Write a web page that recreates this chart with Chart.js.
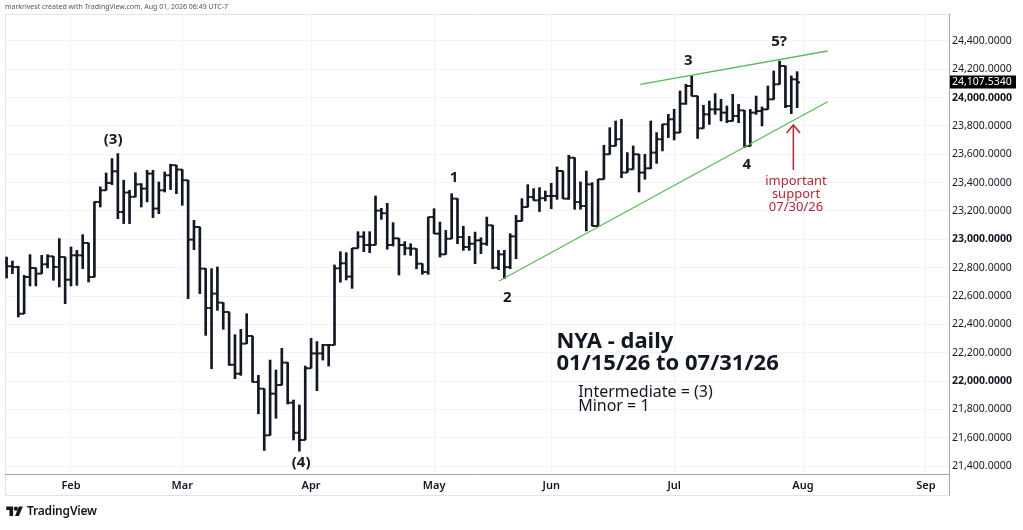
<!DOCTYPE html>
<html>
<head>
<meta charset="utf-8">
<title>NYA - daily</title>
<script src="https://cdn.jsdelivr.net/npm/chart.js@4.4.1/dist/chart.umd.min.js"></script>
<style>
  html, body { margin: 0; padding: 0; background: #fff; }
  #wrap { position: relative; width: 1023px; height: 530px; overflow: hidden; }
  #chart { position: absolute; left: 0; top: 0; }
  .hdr { position: absolute; left: 5px; top: 3px; font: 7px/1 'Noto Sans', sans-serif; color: #555; white-space: nowrap; }
  .brand { position: absolute; left: 6px; top: 505px; display: flex; align-items: center; gap: 4px;
           font: 600 12px/1 'Noto Sans', sans-serif; color: #131722; letter-spacing: -0.2px; }
</style>
</head>
<body>
<div id="wrap">
  <canvas id="chart" width="1023" height="530"></canvas>
  <div class="hdr">markrivest created with TradingView.com, Aug 01, 2026 06:49 UTC-7</div>
  <div class="brand">
    <svg width="17" height="12" viewBox="0 0 36 26"><path d="M15 24H7V11H0V3h15z" fill="#131722"/><circle cx="21" cy="8" r="4.5" fill="#131722"/><path d="M27.5 3H36l-8.5 21H19z" fill="#131722"/></svg>
    <span>TradingView</span>
  </div>
</div>
<script>
// NYA daily OHLC, 01/15/26 .. 07/31/26, one entry per trading day (index 0 = Jan 15)
const opens = [
  22840, 22810, 22805, 22475, 22734, 22798, 22758, 22824, 22880, 22805,
  22875, 22715, 22887, 22887, 22974, 22734, 23264, 23346, 23398, 23480,
  23193, 23330, 23300, 23388, 23358, 23464, 23217, 23346, 23452, 23523,
  23492, 23417, 22998, 23087, 22793, 22515, 22617, 22553, 22487, 22115,
  22052, 22264, 22318, 21993, 21946, 21617, 21911, 21972, 22130, 21847,
  21635, 21584, 22090, 22195, 22195, 22254, 22254, 22795, 22831, 22737,
  22937, 23019, 22960, 22960, 23203, 23184, 22960, 23007, 22960, 22937,
  22934, 22828, 22769, 23157, 23040, 22894, 23004, 23287, 23016, 22946,
  22969, 22993, 22969, 23099, 22800, 22894, 22804, 23021, 23129, 23228,
  23299, 23275, 23290, 23306, 23306, 23482, 23287, 23576, 23263, 23235,
  23388, 23094, 23424, 23600, 23659, 23706, 23471, 23494, 23600, 23471,
  23501, 23612, 23706, 23812, 23847, 23753, 23957, 24082, 24011, 23783,
  23882, 23917, 23917, 23894, 23835, 23870, 23910, 23658, 23894, 23905,
  23917, 23988, 24094, 24223, 23941, 24129,
];
const highs = [
  22875, 22847, 22810, 22746, 22892, 22798, 22887, 22892, 22880, 23005,
  22875, 22946, 22922, 23033, 22974, 23264, 23370, 23468, 23570, 23605,
  23417, 23346, 23470, 23393, 23487, 23487, 23405, 23475, 23530, 23523,
  23492, 23417, 23134, 23087, 22793, 22793, 22805, 22553, 22487, 22327,
  22365, 22475, 22318, 22040, 21946, 22148, 22078, 22231, 22130, 21866,
  21831, 22106, 22301, 22278, 22259, 22259, 22819, 22913, 22906, 22937,
  23054, 23054, 23054, 23306, 23219, 23254, 23118, 23007, 22984, 22969,
  22934, 22828, 23157, 23216, 23122, 23063, 23322, 23287, 23092, 23021,
  23051, 23011, 23157, 23099, 22922, 22922, 23040, 23169, 23287, 23386,
  23358, 23365, 23341, 23395, 23511, 23482, 23593, 23576, 23405, 23482,
  23400, 23424, 23664, 23788, 23835, 23847, 23612, 23659, 23600, 23600,
  23835, 23753, 23812, 23882, 23918, 24047, 24094, 24153, 24011, 23946,
  23976, 24028, 23988, 23941, 24023, 23953, 23910, 23917, 24011, 23934,
  24082, 24188, 24258, 24223, 24153, 24183,
];
const lows = [
  22727, 22758, 22452, 22475, 22671, 22671, 22758, 22798, 22711, 22664,
  22546, 22671, 22675, 22793, 22699, 22734, 23228, 23346, 23386, 23146,
  23111, 23111, 23299, 23228, 23264, 23153, 23181, 23334, 23351, 23322,
  23240, 22581, 22927, 22617, 22322, 22087, 22499, 22365, 22111, 22017,
  22040, 22264, 21993, 21769, 21510, 21617, 21737, 21972, 21838, 21584,
  21505, 21584, 22090, 21932, 22148, 22106, 22254, 22697, 22713, 22654,
  22937, 22913, 22906, 22960, 23141, 22930, 22953, 22748, 22890, 22887,
  22792, 22753, 22753, 23040, 22875, 22894, 23004, 22969, 22922, 22922,
  22828, 22899, 22957, 22793, 22786, 22722, 22793, 22863, 23129, 23228,
  23275, 23196, 23271, 23216, 23282, 23287, 23282, 23212, 23212, 23059,
  23094, 23094, 23424, 23600, 23659, 23435, 23471, 23494, 23334, 23424,
  23499, 23536, 23624, 23718, 23701, 23753, 23953, 24011, 23712, 23783,
  23811, 23882, 23835, 23823, 23835, 23823, 23647, 23658, 23882, 23800,
  23917, 23988, 24094, 23929, 23887, 23929,
];
const closes = [
  22810, 22805, 22475, 22734, 22798, 22758, 22824, 22880, 22805, 22875,
  22715, 22887, 22887, 22974, 22734, 23264, 23346, 23398, 23480, 23193,
  23330, 23300, 23388, 23358, 23464, 23217, 23346, 23452, 23523, 23492,
  23417, 22998, 23087, 22793, 22515, 22617, 22553, 22487, 22115, 22052,
  22264, 22318, 21993, 21946, 21617, 21911, 21972, 22130, 21847, 21635,
  21584, 22090, 22195, 22195, 22254, 22254, 22795, 22831, 22737, 22937,
  23019, 22960, 22960, 23203, 23184, 22960, 23007, 22960, 22937, 22934,
  22828, 22769, 23157, 23040, 22894, 23004, 23287, 23016, 22946, 22969,
  22993, 22969, 23099, 22800, 22894, 22804, 23021, 23129, 23228, 23299,
  23275, 23290, 23306, 23306, 23482, 23287, 23576, 23263, 23235, 23388,
  23094, 23424, 23600, 23659, 23706, 23471, 23494, 23600, 23471, 23501,
  23612, 23706, 23812, 23847, 23753, 23957, 24082, 24011, 23783, 23882,
  23917, 23917, 23894, 23835, 23870, 23910, 23658, 23894, 23905, 23917,
  23988, 24094, 24223, 23941, 24129, 24107.534,
];

// month starts as trading-day index (Feb 2, Mar 2, Apr 1, May 1, Jun 1, Jul 1, Aug 3, Sep 1)
const monthIdx   = [11, 30, 52, 73, 93, 114, 136, 157];
const monthNames = ['Feb', 'Mar', 'Apr', 'May', 'Jun', 'Jul', 'Aug', 'Sep'];
const yTicks = [21400, 21600, 21800, 22000, 22200, 22400, 22600, 22800, 23000,
                23200, 23400, 23600, 23800, 24000, 24200, 24400];

// drawn trend lines: [index, value] endpoints
const upperLine = [[108.2, 24094], [140.2, 24329]];
const lowerLine = [[84.1, 22706], [140.2, 23971]];
const arrowShaft = [[134.35, 23489], [134.35, 23800]];
const arrowHead  = [[133.2, 23750], [134.35, 23807], [135.5, 23750]];

// text on the chart: [text, index, value, style]
const notes = [
  ['(3)', 18.2, 23701, 'wave'],
  ['(4)', 50.3, 21422, 'wave'],
  ['1', 76.4, 23433, 'wave'],
  ['2', 85.5, 22586, 'wave'],
  ['3', 116.4, 24258, 'wave'],
  ['4', 126.4, 23524, 'wave'],
  ['5?', 131.9, 24392, 'wave'],
  ['important', 134.8, 23408, 'red'],
  ['support', 134.8, 23316, 'red'],
  ['07/30/26', 134.8, 23225, 'red'],
  ['NYA - daily', 93.9, 22231, 'title'],
  ['01/15/26 to 07/31/26', 93.9, 22078, 'title'],
  ['Intermediate = (3)', 97.6, 21889, 'legend'],
  ['Minor = 1', 97.6, 21788, 'legend'],
];

const FONT = "'Noto Sans', sans-serif";
const K = {
  ink: '#131722', grid: '#f0f3fa', axis: '#a3a6af', frame: '#e0e3eb',
  green: '#5cb85c', red: '#b22833',
};
const noteStyles = {
  wave:   { font: `bold 15px ${FONT}`, color: K.ink, align: 'center', base: 'middle' },
  red:    { font: `13px ${FONT}`, color: K.red, align: 'center', base: 'middle' },
  title:  { font: `bold 22px ${FONT}`, color: K.ink, align: 'left', base: 'alphabetic' },
  legend: { font: `16px ${FONT}`, color: K.ink, align: 'left', base: 'alphabetic' },
};

const TICK = 0.25;   // open/close tick offset, in bar units
const pts = arr => arr.map(([x, y]) => ({ x, y }));

// ─── frame, notes and last-price tag ─────────────────────────────────────────
const decor = {
  id: 'decor',
  beforeDraw(chart) {
    const { ctx, chartArea: a } = chart;
    ctx.save();
    ctx.strokeStyle = K.frame;
    ctx.lineWidth = 1;
    ctx.beginPath();
    ctx.moveTo(a.left + 0.5, 495.5); ctx.lineTo(a.left + 0.5, a.top + 0.5); ctx.lineTo(a.right, a.top + 0.5);
    ctx.moveTo(a.left, 495.5); ctx.lineTo(a.right, 495.5);
    ctx.stroke();
    ctx.strokeStyle = K.axis;
    ctx.beginPath();
    ctx.moveTo(a.right + 0.5, a.bottom); ctx.lineTo(a.right + 0.5, 496);
    ctx.stroke();
    ctx.restore();
  },
  afterDatasetsDraw(chart) {
    const { ctx, scales: { x, y } } = chart;
    ctx.save();
    notes.forEach(([text, i, v, s]) => {
      const st = noteStyles[s];
      ctx.font = st.font;
      ctx.fillStyle = st.color;
      ctx.textAlign = st.align;
      ctx.textBaseline = st.base;
      ctx.fillText(text, x.getPixelForValue(i), y.getPixelForValue(v));
    });
    ctx.restore();
  },
  afterDraw(chart) {
    const { ctx, chartArea: a, scales: { y } } = chart;
    const last = closes[closes.length - 1];
    const py = y.getPixelForValue(last);
    ctx.save();
    ctx.fillStyle = '#000';
    ctx.fillRect(a.right + 1, Math.round(py) - 6.5, 66, 13);
    ctx.fillStyle = '#fff';
    ctx.font = `10.5px ${FONT}`;
    ctx.textAlign = 'left';
    ctx.textBaseline = 'middle';
    ctx.fillText(last.toLocaleString('en-US', { minimumFractionDigits: 4 }), a.right + 3, Math.round(py));
    ctx.restore();
  },
};

const tickSet = (vals, dx) => ({
  type: 'scatter',
  data: vals.map((v, i) => ({ x: i + dx, y: v })),
  pointStyle: 'line',
  pointRadius: 1.46, pointHoverRadius: 1.46,
  pointBorderWidth: 2, pointBorderColor: K.ink, pointBackgroundColor: K.ink,
});

const trend = (data, color, width) => ({
  type: 'line', data: pts(data), borderColor: color, borderWidth: width,
  pointRadius: 0, fill: false, tension: 0,
});

new Chart(document.getElementById('chart'), {
  type: 'bar',
  data: {
    datasets: [
      trend(upperLine, K.green, 1.3),
      trend(lowerLine, K.green, 1.3),
      trend(arrowShaft, K.red, 1.5),
      trend(arrowHead, K.red, 1.5),
      { type: 'bar', data: highs.map((h, i) => ({ x: i, y: [lows[i], h] })),
        backgroundColor: K.ink, barThickness: 2, borderWidth: 0 },
      tickSet(opens, -TICK),
      tickSet(closes, TICK),
    ],
  },
  options: {
    responsive: false, animation: false, events: [],
    layout: { padding: { left: 5, top: 14, right: 0, bottom: 0 } },
    plugins: { legend: { display: false }, tooltip: { enabled: false } },
    scales: {
      x: {
        type: 'linear', min: -0.27, max: 160.93, offset: false,
        afterBuildTicks: s => { s.ticks = monthIdx.map(v => ({ value: v })); },
        afterFit: s => { s.height = 56; },
        grid: { color: K.grid, drawTicks: false, offset: false },
        border: { color: K.axis },
        ticks: {
          autoSkip: false, maxRotation: 0, padding: 5, color: K.ink,
          font: { family: FONT, size: 11, weight: '600' },
          callback: v => monthNames[monthIdx.indexOf(v)],
        },
      },
      y: {
        type: 'linear', position: 'right', min: 21344, max: 24590,
        afterBuildTicks: s => { s.ticks = yTicks.map(v => ({ value: v })); },
        afterFit: s => { s.width = 74; },
        grid: { color: K.grid, drawTicks: false },
        border: { color: K.axis },
        ticks: {
          padding: 3, color: K.ink,
          font: c => ({ family: FONT, size: 10.5, weight: c.tick && c.tick.value % 1000 === 0 ? 'bold' : 'normal' }),
          callback: v => v.toLocaleString('en-US', { minimumFractionDigits: 4, maximumFractionDigits: 4 }),
        },
      },
    },
  },
  plugins: [decor],
});
</script>
</body>
</html>
